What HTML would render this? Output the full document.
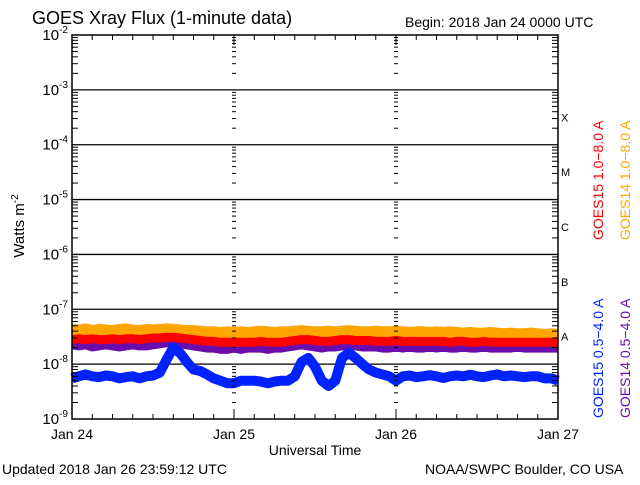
<!DOCTYPE html>
<html><head><meta charset="utf-8"><style>
body{margin:0;background:#fff;width:640px;height:480px;overflow:hidden}
text{font-family:"Liberation Sans",sans-serif}
</style></head><body>
<svg id="chart" width="640" height="480" xmlns="http://www.w3.org/2000/svg">
<rect width="640" height="480" fill="#fff"/>
<text x="32" y="24" font-size="18">GOES Xray Flux (1-minute data)</text>
<text x="405" y="27" font-size="14">Begin:  2018 Jan 24 0000 UTC</text>
<text x="2" y="474" font-size="14">Updated 2018 Jan 26 23:59:12 UTC</text>
<text x="425" y="474" font-size="14">NOAA/SWPC Boulder, CO USA</text>
<text x="315" y="455" font-size="14" text-anchor="middle">Universal Time</text>
<text transform="translate(24,226) rotate(-90)" font-size="15" text-anchor="middle">Watts m<tspan dy="-6" font-size="10">-2</tspan></text>
<g id="grid"></g><g id="series"></g><g id="axes"></g>
<g font-size="14">
<text transform="translate(603,240) rotate(-90)" fill="#ff0000">GOES15 1.0−8.0 A</text>
<text transform="translate(630,240) rotate(-90)" fill="#ffa500">GOES14 1.0−8.0 A</text>
<text transform="translate(603,418) rotate(-90)" fill="#0022ff">GOES15 0.5−4.0 A</text>
<text transform="translate(630,418) rotate(-90)" fill="#6a0dad">GOES14 0.5−4.0 A</text>
</g>
</svg>
<script>
const dayLabels=["Jan 24","Jan 25","Jan 26","Jan 27"];
const decades=[-9,-8,-7,-6,-5,-4,-3,-2];
const classLabels=["A","B","C","M","X"];
const blue=[5.5e-9,6e-9,6.5e-9,6e-9,5.8e-9,6.2e-9,6e-9,5.5e-9,5.8e-9,6e-9,5.5e-9,6e-9,6.2e-9,7e-9,1.2e-8,2e-8,1.6e-8,1.1e-8,8e-9,7.5e-9,6.5e-9,5.5e-9,5e-9,4.5e-9,4.5e-9,5e-9,5e-9,5e-9,4.8e-9,4.5e-9,4.8e-9,5e-9,5e-9,6e-9,1.1e-8,1.3e-8,9e-9,5e-9,4e-9,5e-9,1.3e-8,1.6e-8,1.3e-8,1e-8,8e-9,7e-9,6.5e-9,6e-9,5e-9,6e-9,6.2e-9,5.8e-9,6e-9,6.3e-9,6e-9,5.6e-9,6e-9,6.2e-9,6e-9,6.4e-9,6e-9,5.8e-9,6.2e-9,6.5e-9,6e-9,6.2e-9,6e-9,5.8e-9,6e-9,6e-9,5.5e-9,5.5e-9,5e-9];
const orange=[4.2e-8,4.1e-8,4.3e-8,4e-8,4.2e-8,4.1e-8,4e-8,4.2e-8,4.3e-8,4.1e-8,4e-8,4.2e-8,4.1e-8,4.2e-8,4.3e-8,4.2e-8,4.1e-8,4e-8,4e-8,3.9e-8,3.8e-8,3.8e-8,3.7e-8,3.8e-8,3.7e-8,3.8e-8,3.7e-8,3.8e-8,3.9e-8,3.8e-8,3.7e-8,3.8e-8,3.8e-8,3.9e-8,4e-8,3.9e-8,3.8e-8,3.8e-8,3.9e-8,3.8e-8,3.9e-8,4e-8,3.9e-8,3.8e-8,3.8e-8,3.9e-8,3.8e-8,3.8e-8,3.9e-8,3.8e-8,3.7e-8,3.8e-8,3.8e-8,3.7e-8,3.8e-8,3.7e-8,3.8e-8,3.7e-8,3.6e-8,3.7e-8,3.6e-8,3.6e-8,3.7e-8,3.6e-8,3.5e-8,3.6e-8,3.5e-8,3.5e-8,3.6e-8,3.5e-8,3.4e-8,3.5e-8,3.4e-8];
const red=[2.8e-8,2.9e-8,2.8e-8,2.9e-8,2.8e-8,2.8e-8,2.9e-8,2.8e-8,2.9e-8,2.9e-8,2.8e-8,2.9e-8,3e-8,3e-8,3.1e-8,3.1e-8,3e-8,2.9e-8,2.8e-8,2.7e-8,2.6e-8,2.6e-8,2.5e-8,2.5e-8,2.5e-8,2.5e-8,2.5e-8,2.5e-8,2.6e-8,2.5e-8,2.5e-8,2.5e-8,2.6e-8,2.7e-8,2.8e-8,2.8e-8,2.7e-8,2.6e-8,2.6e-8,2.7e-8,2.8e-8,2.8e-8,2.7e-8,2.7e-8,2.7e-8,2.6e-8,2.6e-8,2.6e-8,2.7e-8,2.6e-8,2.6e-8,2.6e-8,2.6e-8,2.6e-8,2.6e-8,2.6e-8,2.5e-8,2.6e-8,2.6e-8,2.5e-8,2.5e-8,2.6e-8,2.5e-8,2.5e-8,2.5e-8,2.5e-8,2.5e-8,2.5e-8,2.5e-8,2.5e-8,2.5e-8,2.5e-8,2.5e-8];
const purple=[2.3e-8,2.2e-8,2.3e-8,2.1e-8,2.2e-8,2.3e-8,2.2e-8,2.1e-8,2.2e-8,2.3e-8,2.2e-8,2.2e-8,2.3e-8,2.4e-8,2.5e-8,2.5e-8,2.4e-8,2.3e-8,2.2e-8,2.1e-8,2e-8,2e-8,1.9e-8,1.9e-8,2e-8,1.9e-8,2e-8,2e-8,2e-8,1.9e-8,2e-8,2e-8,2.1e-8,2.2e-8,2.3e-8,2.2e-8,2.1e-8,2e-8,2.1e-8,2.1e-8,2.2e-8,2.3e-8,2.2e-8,2.1e-8,2.1e-8,2.1e-8,2e-8,2e-8,2.1e-8,2e-8,2.1e-8,2e-8,2e-8,2.1e-8,2e-8,2.1e-8,2e-8,2e-8,2.1e-8,2e-8,2e-8,2.1e-8,2e-8,2e-8,2e-8,2e-8,2.1e-8,2e-8,2e-8,2e-8,2e-8,2e-8,2e-8];
const NS="http://www.w3.org/2000/svg";
const L=72,R=558,T=35,B=419;
const xs=h=>L+(R-L)*h/72;
const ys=v=>B-(Math.log10(v)+9)*(B-T)/7;
function mk(p,tag,a){const e=document.createElementNS(NS,tag);for(const k in a)e.setAttribute(k,a[k]);p.appendChild(e);return e;}
const grid=document.getElementById('grid'),axes=document.getElementById('axes'),ser=document.getElementById('series');
for(let d=-8;d<=-3;d++){const y=ys(Math.pow(10,d));
const ln=mk(grid,'line',{x1:L,x2:R,y1:y,y2:y,stroke:'#000','stroke-width':1.3});

}
const box=mk(axes,'rect',{x:L,y:T,width:R-L,height:B-T,fill:'none',stroke:'#000','stroke-width':1.5});


const tickXs=[L,xs(24),xs(48),R];
tickXs.forEach((tx,i)=>{for(let d=-9;d<-2;d++){for(let m=2;m<=9;m++){const y=ys(m*Math.pow(10,d));
const len=(i==0||i==3)?6:4;
let x1,x2;if(i==0){x1=L;x2=L+len}else if(i==3){x1=R-len;x2=R}else{x1=tx-2;x2=tx+2}
const t=mk(axes,'line',{x1:x1,x2:x2,y1:y,y2:y,stroke:'#000','stroke-width':1});

}}});
for(let h=0;h<=72;h+=3){const x=xs(h);const len=h%24==0?10:5;
mk(axes,'line',{x1:x,x2:x,y1:B,y2:B-len,stroke:'#000'});
mk(axes,'line',{x1:x,x2:x,y1:T,y2:T+len,stroke:'#000'});}
decades.forEach(d=>{const y=ys(Math.pow(10,d));
const t=mk(axes,'text',{x:L-4,y:y+5,'font-size':15,'text-anchor':'end'});


t.innerHTML='10<tspan dy="-7" font-size="10">'+d+'</tspan>';});
dayLabels.forEach((s,i)=>{const t=mk(axes,'text',{x:xs(i*24),y:439,'font-size':14,'text-anchor':'middle'});


t.textContent=s;});
classLabels.forEach((s,i)=>{const y=(ys(Math.pow(10,-8+i))+ys(Math.pow(10,-7+i)))/2;
const t=mk(axes,'text',{x:R+3,y:y+4,'font-size':11,'font-family':'Liberation Serif'});


t.textContent=s;});
function draw(arr,color,w,name){const pts=arr.map((v,i)=>xs(i*72/(arr.length-1)).toFixed(1)+','+ys(v).toFixed(1)).join(' ');
const p=mk(ser,'polyline',{points:pts,fill:'none',stroke:color,'stroke-width':w,'stroke-linejoin':'round'});

}
draw(orange,'#ffa500',12,'goes14-long-series');
draw(purple,'#6a0dad',10,'goes14-short-series');
draw(red,'#ff0000',9,'goes15-long-series');
draw(blue,'#0022ff',10,'goes15-short-series');
</script>
</body></html>
